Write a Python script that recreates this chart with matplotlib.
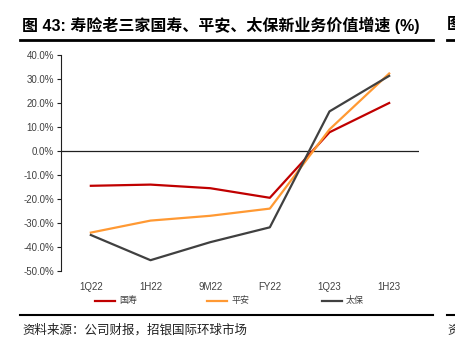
import matplotlib.pyplot as plt
from matplotlib.lines import Line2D

plt.rcParams['font.family'] = ['Liberation Sans', 'Noto Sans CJK SC', 'DejaVu Sans']

# Data
periods = ['1Q22', '1H22', '9M22', 'FY22', '1Q23', '1H23']
guoshou = [-14.5, -14.0, -15.5, -19.5, 7.8, 20.0]
pingan = [-34.0, -29.0, -27.0, -24.0, 9.0, 32.3]
taibao = [-35.0, -45.5, -38.0, -31.8, 16.5, 31.3]
series_names = ['国寿', '平安', '太保']
yticks = [40, 30, 20, 10, 0, -10, -20, -30, -40, -50]

W, H = 455, 351
fig = plt.figure(figsize=(W / 100, H / 100), dpi=100)

# Axes placement in pixels
left, right, top, bottom = 61, 419, 55, 271
ax = fig.add_axes([left / W, 1 - bottom / H, (right - left) / W, (bottom - top) / H])

x = range(len(periods))
ax.plot(x, guoshou, color='#c00000', lw=1.6, zorder=3)
ax.plot(x, pingan, color='#ff9933', lw=1.6, zorder=3)
ax.plot(x, taibao, color='#404040', lw=1.6, zorder=4)
ax.axhline(0, color='#202020', lw=0.9, zorder=2)

ax.set_xlim(-0.5, len(periods) - 0.5)
ax.set_ylim(-50, 40)
ax.set_yticks(yticks)
ax.set_yticklabels([f'{v:.1f}%' for v in yticks], fontsize=7, color='#404040')
ax.set_xticks(list(x))
ax.set_xticklabels(periods, fontsize=7, color='#404040')
ax.tick_params(axis='x', length=0, pad=8)
ax.tick_params(axis='y', length=3, width=0.8, color='#202020', pad=2)
for s in ['top', 'right', 'bottom']:
    ax.spines[s].set_visible(False)
ax.spines['left'].set_color('#202020')
ax.spines['left'].set_linewidth(0.8)

# Legend drawn in figure coords
colors = ['#c00000', '#ff9933', '#404040']
leg_x = [95, 207, 322]
ly = 1 - 301 / H
for name, c, lx in zip(series_names, colors, leg_x):
    fig.add_artist(Line2D([lx / W, (lx + 20) / W], [ly, ly], color=c, lw=1.6))
    fig.text((lx + 24) / W, ly, name, fontsize=6.5, color='#404040',
             va='center', ha='left')

# Title and rules
fig.text(22 / W, 1 - 25 / H, '图 43: 寿险老三家国寿、平安、太保新业务价值增速 (%)',
         fontsize=11.5, fontweight='bold', color='black', va='center', ha='left')
fig.add_artist(Line2D([20 / W, 433 / W], [1 - 39.5 / H] * 2, color='black', lw=2))
fig.add_artist(Line2D([447 / W, 1], [1 - 39.5 / H] * 2, color='black', lw=2))
fig.text(447 / W, 1 - 25 / H, '图', fontsize=11.5, fontweight='bold', va='center', ha='left')

fig.add_artist(Line2D([20 / W, 433 / W], [1 - 315 / H] * 2, color='black', lw=1.5))
fig.add_artist(Line2D([447 / W, 1], [1 - 315 / H] * 2, color='black', lw=1.5))
fig.text(22 / W, 1 - 330 / H, '资料来源：公司财报，招银国际环球市场',
         fontsize=9, color='#202020', va='center', ha='left')
fig.text(447 / W, 1 - 330 / H, '资', fontsize=9, color='#202020', va='center', ha='left')

fig.savefig('out.png', dpi=100)
